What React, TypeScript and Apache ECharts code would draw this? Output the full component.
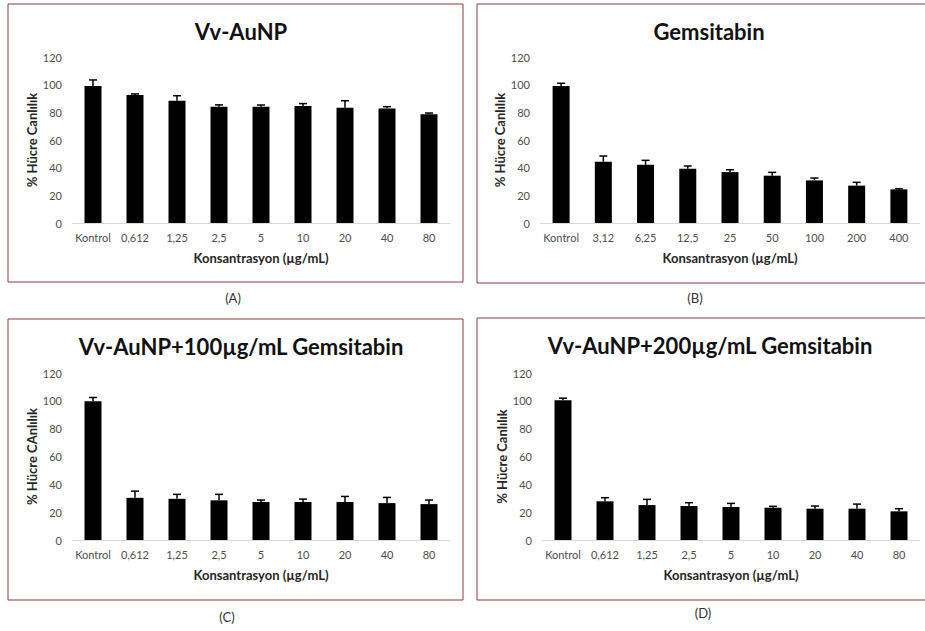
import React, { useEffect, useRef } from "react";
import * as echarts from "echarts";

const catsA = ["Kontrol", "0,612", "1,25", "2,5", "5", "10", "20", "40", "80"];
const catsB = ["Kontrol", "3,12", "6,25", "12,5", "25", "50", "100", "200", "400"];

const valuesA = [99, 92.5, 88.4, 84, 84, 84.6, 83.4, 82.7, 78.6];
const errorsA = [4.4, 0.8, 3.6, 1.4, 1.3, 1.7, 5, 1.4, 0.9];

const valuesB = [99, 44.3, 42.1, 39.3, 36.8, 34.2, 30.8, 27, 24.3];
const errorsB = [2, 4.1, 3.2, 1.9, 1.7, 2.4, 1.7, 2.4, 0.5];

const valuesC = [99.7, 30.3, 29.6, 28.5, 27.3, 27.3, 27.3, 26.5, 25.8];
const errorsC = [2.7, 4.8, 3.2, 4.3, 1.4, 2.1, 4, 4.1, 2.9];

const valuesD = [100.4, 27.8, 25.1, 24.4, 23.7, 23.2, 22.5, 22.5, 20.6];
const errorsD = [1.5, 2.6, 4.1, 2.4, 2.6, 1, 1.9, 3.3, 1.9];

const titles = ["Vv-AuNP", "Gemsitabin", "Vv-AuNP+100µg/mL Gemsitabin", "Vv-AuNP+200µg/mL Gemsitabin"];
const yNames = ["% Hücre Canlılık", "% Hücre Canlılık", "% Hücre CAnlılık", "% Hücre Canlılık"];
const xName = "Konsantrasyon (µg/mL)";
const panelLabels = ["(A)", "(B)", "(C)", "(D)"];
const yTicks = { min: 0, max: 120, interval: 20 };

const FONT = "Lato, 'Open Sans', sans-serif";

export default function App() {
  const ref = useRef<HTMLDivElement>(null);
  useEffect(() => {
    if (!ref.current) return;
    const chart = echarts.init(ref.current, undefined, { renderer: "svg" });

    const grids = [
      { left: 72, top: 57, width: 378, height: 166 },
      { left: 540, top: 57, width: 380, height: 166 },
      { left: 72, top: 373, width: 378, height: 167 },
      { left: 542, top: 373, width: 378, height: 167 },
    ];
    const cats = [catsA, catsB, catsA, catsA];
    const vals = [valuesA, valuesB, valuesC, valuesD];
    const errs = [errorsA, errorsB, errorsC, errorsD];

    const xAxis = grids.map((_, i) => ({
      type: "category",
      gridIndex: i,
      data: cats[i],
      axisLine: { lineStyle: { color: "#d9d9d9", width: 1 } },
      axisTick: { show: false },
      axisLabel: { color: "#4d4d4d", fontSize: 11, fontFamily: FONT, margin: 9, interval: 0 },
      name: xName,
      nameLocation: "middle",
      nameGap: 28,
      nameTextStyle: { color: "#262626", fontSize: 13, fontWeight: "bold", fontFamily: FONT },
    }));
    const yAxis = grids.map((_, i) => ({
      type: "value",
      gridIndex: i,
      ...yTicks,
      splitLine: { show: false },
      axisLine: { show: false },
      axisTick: { show: false },
      axisLabel: { color: "#4d4d4d", fontSize: 11, fontFamily: FONT, margin: 10 },
      name: yNames[i],
      nameLocation: "middle",
      nameGap: 34,
      nameTextStyle: { color: "#262626", fontSize: 13, fontWeight: "bold", fontFamily: FONT },
    }));

    const series: any[] = [];
    grids.forEach((_, i) => {
      series.push({
        type: "bar",
        xAxisIndex: i,
        yAxisIndex: i,
        data: vals[i],
        barWidth: 17,
        itemStyle: { color: "#000000" },
        z: 2,
      });
      series.push({
        type: "custom",
        xAxisIndex: i,
        yAxisIndex: i,
        data: vals[i].map((v, k) => [k, v, v + errs[i][k]]),
        z: 3,
        renderItem: (params: any, api: any) => {
          const x = api.value(0);
          const lo = api.coord([x, api.value(1)]);
          const hi = api.coord([x, api.value(2)]);
          const cap = 4;
          return {
            type: "group",
            children: [
              { type: "line", shape: { x1: lo[0], y1: lo[1], x2: hi[0], y2: hi[1] }, style: { stroke: "#000", lineWidth: 1.5 } },
              { type: "line", shape: { x1: hi[0] - cap, y1: hi[1], x2: hi[0] + cap, y2: hi[1] }, style: { stroke: "#000", lineWidth: 1.5 } },
            ],
          };
        },
      });
    });

    const title = [
      { text: titles[0], left: 236, top: 15 },
      { text: titles[1], left: 704, top: 15 },
      { text: titles[2], left: 236, top: 330 },
      { text: titles[3], left: 705, top: 329 },
    ].map((t) => ({
      ...t,
      textAlign: "center",
      textStyle: { fontSize: 22, fontWeight: "bold", color: "#111111", fontFamily: FONT },
    }));

    const border = { stroke: "#8b3a3e", lineWidth: 1, fill: "none" };
    const graphic: any[] = [
      { type: "rect", shape: { x: 8, y: 4, width: 455, height: 278 }, style: border, silent: true },
      { type: "rect", shape: { x: 477, y: 4, width: 460, height: 279 }, style: border, silent: true },
      { type: "rect", shape: { x: 8, y: 319, width: 455, height: 281 }, style: border, silent: true },
      { type: "rect", shape: { x: 477, y: 318, width: 460, height: 282 }, style: border, silent: true },
    ];
    const labelPos = [
      [233, 298],
      [695, 298],
      [227, 617],
      [703, 613],
    ];
    panelLabels.forEach((t, i) => {
      graphic.push({
        type: "text",
        x: labelPos[i][0],
        y: labelPos[i][1],
        style: { text: t, fontSize: 13, fill: "#333", fontFamily: FONT, align: "center", verticalAlign: "middle" },
      });
    });

    chart.setOption({
      animation: false,
      backgroundColor: "#ffffff",
      title,
      grid: grids,
      xAxis,
      yAxis,
      series,
      graphic,
    });
    return () => chart.dispose();
  }, []);
  return <div ref={ref} style={{ position: "absolute", left: 0, top: 0, width: 925, height: 631 }} />;
}
